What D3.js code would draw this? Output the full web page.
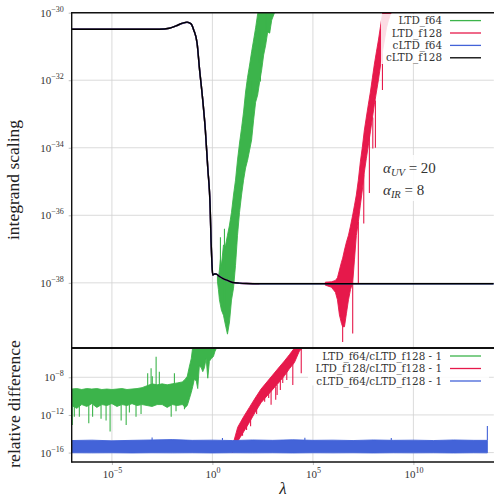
<!DOCTYPE html>
<html>
<head>
<meta charset="utf-8">
<script src="https://cdn.jsdelivr.net/npm/d3@7"></script>
<style>
  body { margin: 0; background: #fff; }
  svg { display: block; }
  text { font-family: "Liberation Serif", "DejaVu Serif", serif; }
  text.leg { font-family: "DejaVu Serif", serif; }
</style>
</head>
<body>
<svg id="chart" width="494" height="499"></svg>
<script>
// ---- data (all values are log10 exponents) ----
// x axis: lambda, y axes: integrand scaling / relative difference
const xTicks = [-5, 0, 5, 10];
const yTopTicks = [-30, -32, -34, -36, -38];
const yBotTicks = [-8, -12, -16];

// cLTD integrand (f128 and f64 coincide): [log10 lambda, log10 value]
const cltdCurve = [
  [-7.0, -30.49], [-5.0, -30.49], [-3.5, -30.49], [-2.64, -30.49], [-2.14, -30.46],
  [-1.81, -30.39], [-1.48, -30.31], [-1.26, -30.28], [-1.06, -30.33], [-0.93, -30.51],
  [-0.76, -30.91], [-0.65, -31.61], [-0.48, -32.59], [-0.35, -33.48], [-0.23, -34.60],
  [-0.11, -35.79], [-0.065, -36.79], [-0.025, -37.39], [0.015, -37.77], [0.10, -37.74],
  [0.18, -37.74], [0.35, -37.81], [0.51, -37.87], [0.75, -37.93], [1.01, -37.99],
  [1.34, -38.01], [1.68, -38.02], [2.34, -38.025], [14.0, -38.025]
];

// LTD_f64 noisy band: [log10 lambda, low, high]
const ltdF64Band = [
  [0.25, -37.95, -37.75], [0.30, -38.20, -37.85], [0.35, -38.50, -37.62], [0.40, -38.66, -37.30],
  [0.45, -38.81, -37.48], [0.55, -38.96, -36.88], [0.65, -39.25, -36.90], [0.75, -39.52, -36.59],
  [0.85, -39.16, -36.29], [0.95, -38.51, -35.91], [1.05, -38.16, -35.40], [1.15, -37.48, -34.96],
  [1.25, -36.59, -34.36], [1.35, -35.91, -33.86], [1.45, -35.40, -33.42], [1.55, -34.96, -32.94],
  [1.65, -34.60, -32.35], [1.75, -34.37, -31.91], [1.85, -34.07, -31.55], [1.95, -33.77, -31.16],
  [2.05, -33.18, -30.81], [2.15, -32.65, -30.45], [2.25, -32.44, -30.04], [2.35, -32.05, -29.80],
  [2.45, -31.70, -29.50], [2.55, -31.25, -29.30], [2.65, -30.96, -29.00], [2.75, -30.57, -29.00],
  [2.85, -30.60, -29.00], [2.95, -30.22, -29.00], [3.09, -30.00, -29.00]
];
// isolated spikes: [log10 lambda, from, to]
const ltdF64Spikes = [
  [0.40, -37.5, -36.65], [0.60, -38.9, -36.40], [1.97, -32.0, -33.38],
  [2.34, -30.5, -31.49], [2.39, -30.5, -32.04], [2.68, -29.5, -30.56], [2.84, -29.5, -30.61]
];

// LTD_f128 noisy band
const ltdF128Band = [
  [5.62, -38.07, -37.98], [5.92, -38.13, -37.97], [6.12, -38.28, -37.93], [6.22, -38.50, -37.85],
  [6.32, -38.95, -37.62], [6.42, -39.20, -37.39], [6.48, -39.30, -37.27], [6.57, -39.30, -37.03],
  [6.67, -38.90, -36.79], [6.77, -38.50, -36.59], [6.87, -38.20, -36.32], [6.98, -38.00, -35.99],
  [7.07, -37.30, -35.70], [7.16, -36.60, -35.40], [7.26, -36.20, -34.96], [7.36, -35.70, -34.42],
  [7.46, -35.25, -33.98], [7.56, -34.72, -33.48], [7.66, -34.31, -33.09], [7.76, -33.92, -32.71],
  [7.86, -33.53, -32.35], [7.96, -33.12, -31.93], [8.06, -32.71, -31.52], [8.16, -32.35, -31.16],
  [8.26, -31.99, -30.81], [8.36, -31.58, -30.42], [8.46, -31.16, -30.04], [8.56, -30.81, -29.80],
  [8.66, -30.45, -29.60], [8.76, -30.22, -29.40], [8.86, -30.04, -29.20], [8.96, -29.95, -29.00]
];
const ltdF128Spikes = [
  [6.40, -38.5, -38.96], [6.48, -39.0, -39.75], [6.98, -38.0, -39.50], [7.26, -36.2, -38.01],
  [7.53, -34.8, -36.24], [7.81, -33.6, -35.34], [7.98, -33.1, -34.02], [8.11, -32.6, -34.00],
  [8.46, -31.2, -32.29]
];

// relative differences (lower panel)
const relLtdF64Band = [
  [-7.0, -11.0, -9.25], [-6.75, -11.3, -9.2], [-6.5, -10.9, -9.3], [-6.25, -11.1, -9.2],
  [-6.0, -10.8, -9.25], [-5.75, -11.2, -9.2], [-5.5, -10.9, -9.3], [-5.25, -11.0, -9.25],
  [-5.0, -10.8, -9.3], [-4.75, -11.1, -9.25], [-4.5, -10.9, -9.2], [-4.25, -11.0, -9.3],
  [-4.0, -10.8, -9.25], [-3.75, -11.0, -9.2], [-3.5, -10.9, -9.1], [-3.25, -11.0, -8.9],
  [-3.0, -11.1, -8.7], [-2.75, -10.9, -8.8], [-2.5, -10.9, -8.7], [-2.25, -11.2, -8.8],
  [-2.0, -10.9, -8.7], [-1.75, -11.0, -8.6], [-1.5, -10.9, -8.5], [-1.35, -11.2, -8.2],
  [-1.25, -11.0, -7.9], [-1.15, -10.3, -6.9], [-1.05, -9.6, -6.0], [-0.98, -9.0, -4.8],
  [-0.9, -8.2, -4.0], [-0.8, -8.4, -4.0], [-0.73, -9.2, -4.0], [-0.65, -6.8, -4.0],
  [-0.55, -7.0, -4.0], [-0.48, -7.4, -4.0], [-0.40, -7.0, -4.0], [-0.31, -6.0, -4.0],
  [-0.23, -8.1, -4.0], [-0.15, -6.3, -4.0], [-0.05, -6.0, -4.0], [0.05, -5.8, -4.0],
  [0.12, -5.3, -4.0], [0.18, -5.0, -4.0]
];
const relLtdF64Spikes = [
  [-6.97, -10.9, -13.06], [-6.87, -10.9, -12.18], [-6.62, -10.9, -12.2], [-6.15, -10.9, -12.88],
  [-5.96, -10.9, -12.2], [-5.54, -10.9, -12.4], [-5.29, -10.9, -12.6], [-5.09, -10.9, -13.77],
  [-4.54, -10.9, -12.6], [-4.29, -10.9, -13.06], [-4.13, -10.9, -11.75], [-3.80, -10.9, -12.2],
  [-3.55, -10.9, -11.9], [-3.22, -9.0, -7.58], [-3.05, -9.0, -7.04], [-2.99, -9.0, -7.9],
  [-2.80, -9.0, -5.81], [-2.64, -9.0, -7.41], [-2.05, -10.9, -12.18], [-1.89, -9.0, -7.58],
  [-1.81, -10.9, -11.6], [-1.39, -10.9, -11.4]
];

const relLtdF128Band = [
  [1.00, -16.0, -15.3], [1.26, -14.8, -13.3], [1.55, -13.8, -12.2],
  [1.84, -12.8, -11.2], [2.13, -11.7, -10.2], [2.42, -10.7, -9.25], [2.75, -9.9, -8.4],
  [3.08, -9.1, -7.55], [3.33, -8.5, -6.9], [3.58, -7.85, -6.28], [3.83, -7.1, -5.6],
  [4.08, -6.44, -4.9], [4.33, -5.2, -4.4], [4.60, -4.7, -4.0], [5.2, -4.2, -3.5]
];
const relLtdF128Spikes = [
  [1.50, -13.3, -14.2], [1.70, -12.9, -13.6], [1.90, -12.3, -13.2], [2.20, -10.8, -11.9],
  [2.60, -9.7, -10.6], [2.80, -9.2, -10.2], [2.92, -9.3, -10.93], [3.15, -9.0, -10.4],
  [3.22, -8.8, -9.87], [3.38, -8.4, -9.35], [3.50, -7.7, -8.6], [3.70, -7.2, -8.3],
  [4.00, -6.5, -8.82], [4.42, -5.0, -7.58]
];

const relCltdF64Band = [
  [-7.0, -16.02, -14.72], [-6.0, -16.03, -14.68], [-5.0, -16.02, -14.75], [-4.0, -16.04, -14.70],
  [-3.0, -16.02, -14.66], [-2.0, -16.03, -14.62], [-1.0, -16.02, -14.70], [0.0, -16.04, -14.68],
  [1.0, -16.02, -14.72], [2.0, -16.03, -14.66], [3.0, -16.02, -14.70], [4.0, -16.04, -14.64],
  [5.0, -16.02, -14.70], [6.0, -16.03, -14.68], [7.0, -16.02, -14.72], [8.0, -16.04, -14.66],
  [9.0, -16.02, -14.70], [10.0, -16.03, -14.68], [11.0, -16.02, -14.72], [12.0, -16.04, -14.66],
  [13.0, -16.02, -14.70], [13.68, -16.03, -14.70]
];
const relCltdF64Spikes = [
  [-3.0, -14.7, -14.40], [0.5, -14.7, -14.45], [4.6, -14.7, -14.42], [8.9, -14.7, -14.45],
  [13.68, -14.7, -13.17]
];

const topLegend = ["LTD_f64", "LTD_f128", "cLTD_f64", "cLTD_f128"];
const botLegend = ["LTD_f64/cLTD_f128 - 1", "LTD_f128/cLTD_f128 - 1", "cLTD_f64/cLTD_f128 - 1"];
const colors = { green: "#3cb44b", red: "#e6194b", blue: "#4363d8", black: "#000000" };

// ---- layout ----
const left = 71.7, right = 493.8;
const topY0 = 12.7, topY1 = 348, botY0 = 348, botY1 = 462;
const p = v => Math.pow(10, v);

const svg = d3.select("#chart");
const x = d3.scaleLog().domain([1e-7, 1e14]).range([left, right]);
const yTop = d3.scaleLog().domain([p(-39.93), 1e-30]).range([topY1, topY0]);
const yBot = d3.scaleLog().domain([1e-17, p(-4.89)]).range([botY1, botY0]);

const defs = svg.append("defs");
defs.append("clipPath").attr("id", "clipTop").append("rect")
  .attr("x", left).attr("y", topY0).attr("width", right - left).attr("height", topY1 - topY0);
defs.append("clipPath").attr("id", "clipBot").append("rect")
  .attr("x", left).attr("y", botY0).attr("width", right - left).attr("height", botY1 - botY0);

const gridColor = "#d2d2d2";
function drawGrid(yScale, yTicks, y0, y1) {
  const g = svg.append("g");
  g.selectAll("line.v").data(xTicks).join("line")
    .attr("x1", d => x(p(d))).attr("x2", d => x(p(d)))
    .attr("y1", y0).attr("y2", y1)
    .attr("stroke", gridColor).attr("stroke-width", 0.8);
  g.selectAll("line.h").data(yTicks).join("line")
    .attr("x1", left).attr("x2", right)
    .attr("y1", d => yScale(p(d))).attr("y2", d => yScale(p(d)))
    .attr("stroke", gridColor).attr("stroke-width", 0.8);
}
drawGrid(yTop, yTopTicks, topY0, topY1);
drawGrid(yBot, yBotTicks, botY0, botY1);

function powLabel(sel, e) {
  sel.text(null);
  sel.append("tspan").text("10");
  sel.append("tspan").attr("dy", -5).attr("font-size", 8).text(e < 0 ? "\u2212" + (-e) : String(e));
}

function yAxis(scale, ticks) {
  const g = svg.append("g").attr("transform", `translate(${left},0)`)
    .call(d3.axisLeft(scale).tickValues(ticks.map(p)).tickSize(3).tickPadding(5).tickFormat(() => ""));
  g.select(".domain").remove();
  g.selectAll(".tick line").attr("stroke", "#bbb");
  g.selectAll(".tick text").attr("font-size", 11).attr("fill", "#333")
    .each(function (d) { powLabel(d3.select(this), Math.round(Math.log10(d))); });
}
yAxis(yTop, yTopTicks);
yAxis(yBot, yBotTicks);

const xg = svg.append("g").attr("transform", `translate(0,${botY1})`)
  .call(d3.axisBottom(x).tickValues(xTicks.map(p)).tickSize(3).tickPadding(5).tickFormat(() => ""));
xg.select(".domain").remove();
xg.selectAll(".tick line").attr("stroke", "#bbb");
xg.selectAll(".tick text").attr("font-size", 11).attr("fill", "#333")
  .each(function (d) { powLabel(d3.select(this), Math.round(Math.log10(d))); });

// ---- marks ----
function band(g, data, yScale, color) {
  g.append("path").datum(data)
    .attr("d", d3.area().x(d => x(p(d[0]))).y0(d => yScale(p(d[1]))).y1(d => yScale(p(d[2]))))
    .attr("fill", color).attr("stroke", color).attr("stroke-width", 0.9).attr("stroke-linejoin", "round");
}
function spikes(g, data, yScale, color) {
  g.selectAll(null).data(data).join("line")
    .attr("x1", d => x(p(d[0]))).attr("x2", d => x(p(d[0])))
    .attr("y1", d => yScale(p(d[1]))).attr("y2", d => yScale(p(d[2])))
    .attr("stroke", color).attr("stroke-width", 1.1);
}
function curve(g, data, yScale, color, w) {
  g.append("path").datum(data)
    .attr("d", d3.line().x(d => x(p(d[0]))).y(d => yScale(p(d[1]))).curve(d3.curveMonotoneX))
    .attr("fill", "none").attr("stroke", color).attr("stroke-width", w).attr("stroke-linejoin", "round");
}

const gt = svg.append("g").attr("clip-path", "url(#clipTop)");
curve(gt, cltdCurve.filter(d => d[0] <= 0.25), yTop, colors.green, 1.5);
band(gt, ltdF64Band, yTop, colors.green);
spikes(gt, ltdF64Spikes, yTop, colors.green);
curve(gt, cltdCurve.filter(d => d[0] <= 5.7), yTop, colors.red, 1.5);
band(gt, ltdF128Band, yTop, colors.red);
spikes(gt, ltdF128Spikes, yTop, colors.red);
curve(gt, cltdCurve, yTop, colors.blue, 1.5);
curve(gt, cltdCurve, yTop, colors.black, 1.4);

const gb = svg.append("g").attr("clip-path", "url(#clipBot)");
band(gb, relLtdF64Band, yBot, colors.green);
spikes(gb, relLtdF64Spikes, yBot, colors.green);
band(gb, relLtdF128Band, yBot, colors.red);
spikes(gb, relLtdF128Spikes, yBot, colors.red);
band(gb, relCltdF64Band, yBot, colors.blue);
spikes(gb, relCltdF64Spikes, yBot, colors.blue);

// ---- spines ----
const spine = (x1, y1, x2, y2, w) => svg.append("line")
  .attr("x1", x1).attr("y1", y1).attr("x2", x2).attr("y2", y2)
  .attr("stroke", "#111").attr("stroke-width", w);
spine(left, topY0, right + 1, topY0, 1.4);
spine(left, topY0 - 0.7, left, botY1 + 0.7, 1.4);
spine(left, topY1, right + 1, topY1, 2);
spine(left, botY1, right + 1, botY1, 1.4);

// ---- legends ----
function legend(items, cols, textX, baseY, step, box) {
  svg.append("rect").attr("x", box[0]).attr("y", box[1]).attr("width", box[2]).attr("height", box[3])
    .attr("fill", "#fff").attr("fill-opacity", 0.85);
  const g = svg.append("g");
  items.forEach((t, i) => {
    const by = baseY + i * step;
    g.append("text").attr("class", "leg").attr("x", textX).attr("y", by).attr("text-anchor", "end")
      .attr("font-size", 10.4).attr("fill", "#333").text(t);
    g.append("line").attr("x1", textX + 8).attr("x2", textX + 39)
      .attr("y1", by - 3.6).attr("y2", by - 3.6)
      .attr("stroke", cols[i]).attr("stroke-width", 1.3);
  });
}
legend(topLegend, [colors.green, colors.red, colors.blue, colors.black], 442, 24.2, 12.4, [381, 14, 108, 50]);
legend(botLegend, [colors.green, colors.red, colors.blue], 442, 359.6, 12.5, [308, 349.5, 181, 36]);

// ---- annotation ----
svg.append("rect").attr("x", 380).attr("y", 155).attr("width", 70).attr("height", 46)
  .attr("fill", "#fff").attr("fill-opacity", 0.85);
function alphaLabel(y, sub, val) {
  const t = svg.append("text").attr("x", 383).attr("y", y).attr("font-size", 15).attr("fill", "#333");
  t.append("tspan").attr("font-style", "italic").text("\u03b1");
  t.append("tspan").attr("font-style", "italic").attr("font-size", 10.5).attr("dy", 3).text(sub);
  t.append("tspan").attr("dy", -3).text(" = " + val);
}
alphaLabel(173, "UV", "20");
alphaLabel(195, "IR", "8");

// ---- axis titles ----
svg.append("text").attr("transform", "translate(19,180) rotate(-90)")
  .attr("text-anchor", "middle").attr("font-size", 17.5).attr("fill", "#222").text("integrand scaling");
svg.append("text").attr("transform", "translate(20,404) rotate(-90)")
  .attr("text-anchor", "middle").attr("font-size", 17.5).attr("fill", "#222").text("relative difference");
svg.append("text").attr("x", 283).attr("y", 494).attr("text-anchor", "middle")
  .attr("font-size", 17).attr("font-style", "italic").attr("fill", "#222").text("\u03bb");
</script>
</body>
</html>
